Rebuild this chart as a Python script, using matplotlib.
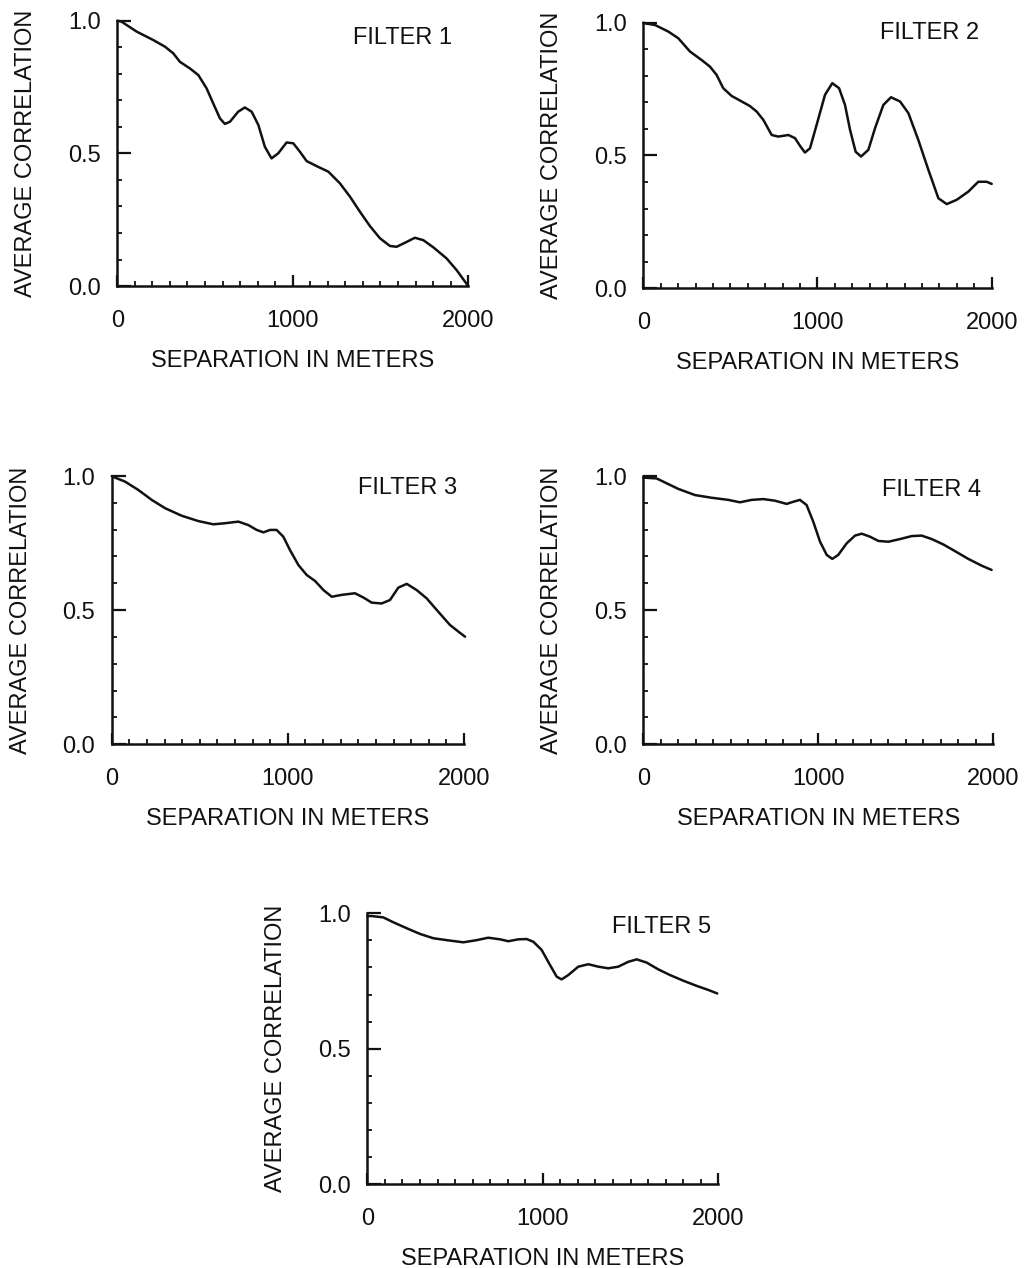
import matplotlib.pyplot as plt
from matplotlib.ticker import MultipleLocator

plt.rcParams['font.family'] = ['Liberation Sans', 'DejaVu Sans']

# separation (m) and average correlation
f1_x = [0, 25, 110, 205, 272, 319, 357, 414, 462, 509, 547, 585, 613, 642, 689, 727, 766, 804,
        841, 879, 917, 965, 1003, 1041, 1079, 1136, 1203, 1269, 1326, 1383, 1440, 1497, 1554,
        1592, 1639, 1696, 1744, 1801, 1877, 1934, 2000]
f1_y = [1.0, 0.996, 0.959, 0.927, 0.902, 0.877, 0.845, 0.820, 0.795, 0.745, 0.688, 0.632, 0.611,
        0.619, 0.657, 0.673, 0.657, 0.607, 0.525, 0.481, 0.500, 0.541, 0.538, 0.506, 0.471, 0.452,
        0.431, 0.387, 0.337, 0.280, 0.226, 0.180, 0.151, 0.148, 0.163, 0.182, 0.173, 0.146, 0.104,
        0.060, 0.0]

f2_x = [0, 10, 67, 144, 201, 268, 335, 383, 421, 459, 507, 565, 612, 651, 689, 737, 775, 833,
        871, 903, 928, 957, 995, 1043, 1085, 1124, 1158, 1187, 1219, 1250, 1292, 1330, 1378, 1422,
        1474, 1522, 1579, 1637, 1694, 1742, 1799, 1866, 1923, 1971, 2000]
f2_y = [1.0, 0.997, 0.991, 0.966, 0.941, 0.891, 0.859, 0.834, 0.803, 0.753, 0.724, 0.703, 0.686,
        0.665, 0.634, 0.577, 0.571, 0.577, 0.565, 0.533, 0.511, 0.527, 0.615, 0.728, 0.772, 0.753,
        0.690, 0.596, 0.514, 0.496, 0.521, 0.602, 0.690, 0.719, 0.703, 0.659, 0.558, 0.445, 0.339,
        0.317, 0.333, 0.364, 0.401, 0.401, 0.393]

f3_x = [0, 19, 76, 151, 227, 303, 397, 492, 577, 643, 719, 776, 823, 861, 899, 936, 974, 1012,
        1060, 1107, 1154, 1202, 1249, 1306, 1381, 1429, 1476, 1533, 1580, 1627, 1675, 1731, 1788,
        1854, 1920, 1968, 2006]
f3_y = [1.0, 0.994, 0.979, 0.948, 0.911, 0.880, 0.852, 0.832, 0.820, 0.824, 0.830, 0.817, 0.799,
        0.790, 0.799, 0.799, 0.774, 0.724, 0.668, 0.631, 0.609, 0.575, 0.550, 0.557, 0.563, 0.547,
        0.528, 0.525, 0.538, 0.584, 0.598, 0.575, 0.544, 0.494, 0.445, 0.420, 0.401]

f4_x = [0, 76, 133, 200, 295, 390, 486, 552, 619, 686, 752, 819, 857, 895, 933, 971, 1010, 1048,
        1080, 1114, 1162, 1210, 1248, 1295, 1343, 1400, 1467, 1533, 1590, 1648, 1714, 1781, 1857,
        1933, 1990]
f4_y = [0.994, 0.991, 0.973, 0.952, 0.929, 0.919, 0.911, 0.902, 0.911, 0.914, 0.908, 0.896, 0.904,
        0.911, 0.892, 0.830, 0.755, 0.706, 0.691, 0.706, 0.749, 0.778, 0.785, 0.774, 0.758, 0.755,
        0.765, 0.776, 0.778, 0.765, 0.745, 0.720, 0.691, 0.666, 0.650]

f5_x = [0, 25, 91, 148, 224, 300, 376, 452, 547, 623, 689, 756, 803, 860, 908, 946, 993, 1041,
        1079, 1107, 1145, 1202, 1259, 1316, 1373, 1430, 1487, 1535, 1592, 1658, 1725, 1801, 1877,
        1943, 1994]
f5_y = [0.99, 0.990, 0.985, 0.967, 0.945, 0.924, 0.908, 0.901, 0.893, 0.901, 0.910, 0.904, 0.897,
        0.904, 0.905, 0.895, 0.865, 0.809, 0.766, 0.756, 0.772, 0.803, 0.812, 0.803, 0.797, 0.803,
        0.821, 0.830, 0.818, 0.793, 0.772, 0.751, 0.732, 0.717, 0.704]

titles = ['FILTER 1', 'FILTER 2', 'FILTER 3', 'FILTER 4', 'FILTER 5']
series = [(f1_x, f1_y), (f2_x, f2_y), (f3_x, f3_y), (f4_x, f4_y), (f5_x, f5_y)]

# axes boxes in figure fractions, and where the filter name sits
boxes = [
    [0.1144, 0.7744, 0.3424, 0.2093],
    [0.6276, 0.7726, 0.3399, 0.2096],
    [0.1090, 0.4130, 0.3437, 0.2116],
    [0.6276, 0.4130, 0.3415, 0.2116],
    [0.3584, 0.0662, 0.3424, 0.2135],
]
name_pos = [(0.672, 0.936), (0.679, 0.961), (0.699, 0.955), (0.681, 0.948), (0.696, 0.950)]

ink = '#111111'
fs = 17

fig = plt.figure(figsize=(10.25, 12.68), dpi=100)

for (x, y), box, name, pos in zip(series, boxes, titles, name_pos):
    ax = fig.add_axes(box)
    ax.plot(x, y, color=ink, lw=1.8, solid_joinstyle='round', solid_capstyle='round',
            clip_on=False)
    ax.set_xlim(0, 2000)
    ax.set_ylim(0, 1.0)
    for s in ['top', 'right']:
        ax.spines[s].set_visible(False)
    for s in ['left', 'bottom']:
        ax.spines[s].set_linewidth(1.8)
        ax.spines[s].set_color(ink)
        ax.spines[s].set_capstyle('projecting')

    ax.xaxis.set_minor_locator(MultipleLocator(100))
    ax.yaxis.set_minor_locator(MultipleLocator(0.1))
    ax.set_xticks([0, 1000, 2000])
    ax.set_yticks([0, 0.5, 1.0])
    ax.set_xticklabels(['0', '1000', '2000'])
    ax.set_yticklabels(['0.0', '0.5', '1.0'])

    ax.tick_params(axis='x', which='major', direction='in', length=8, width=1.6,
                   pad=17, labelsize=fs, colors=ink)
    ax.tick_params(axis='y', which='major', direction='in', length=10, width=1.6,
                   pad=12, labelsize=fs, colors=ink)
    ax.tick_params(which='minor', direction='in', length=3.5, width=1.3, colors=ink)

    ax.set_xlabel('SEPARATION IN METERS', fontsize=fs, color=ink, labelpad=13)
    ax.set_ylabel('AVERAGE CORRELATION', fontsize=fs, color=ink, labelpad=22)
    ax.text(pos[0], pos[1], name, transform=ax.transAxes, fontsize=fs, color=ink,
            ha='left', va='center')

fig.savefig('out.png', dpi=100)
